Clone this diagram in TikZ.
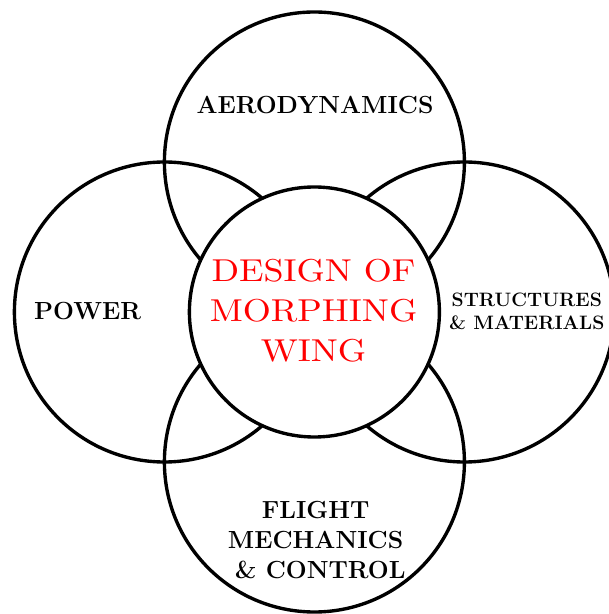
\documentclass[tikz,border=0pt]{standalone}
\usepackage{graphicx}
\usetikzlibrary{positioning, calc}

\font\wingfont=cmr10 at 22.5pt
\newcommand{\wingsel}{\wingfont\baselineskip=28.45pt\relax}
\newcommand{\widen}[1]{\scalebox{1.14}[1]{#1}}

\begin{document}
\begin{tikzpicture}[
    ring/.style={draw, circle, line width=2.4pt, minimum size=7.5cm, inner sep=0pt},
    core/.style={draw, circle, line width=2.4pt, fill=white, minimum size=6.25cm, inner sep=0pt},
    area/.style={font=\fontsize{17.6}{21}\selectfont\bfseries, align=center},
    small/.style={font=\fontsize{13.8}{16.6}\selectfont\bfseries, align=center},
    title/.style={font=\wingsel, text=red, align=center}
  ]
  \useasboundingbox (0,0) rectangle (15.2,15.35);

  % Outer disciplines
  \node[ring] (aero) at (7.86,11.3) {};
  \node[ring] (power) at (4.11,7.55) {};
  \node[ring] (struct) at (11.61,7.55) {};
  \node[ring] (flight) at (7.86,3.8) {};

  % Central topic
  \node[core] (wing) at (7.86,7.55) {};

  % Labels
  \node[area] (aerolbl) at (7.875,12.725) {AERODYNAMICS};
  \node[area] (powerlbl) at (2.19,7.57) {POWER};
  \node[small] (structlbl) at (13.17,7.56) {STRUCTURES\\\& MATERIALS};
  \node[area] (flightlbl) at (7.89,1.85) {FLIGHT\\MECHANICS\\\ \& CONTROL};
  \node[title] (winglbl) at (7.84,7.58) {\widen{DESIGN OF}\\ \widen{MORPHING}\\ \widen{WING}};

\end{tikzpicture}
\end{document}
